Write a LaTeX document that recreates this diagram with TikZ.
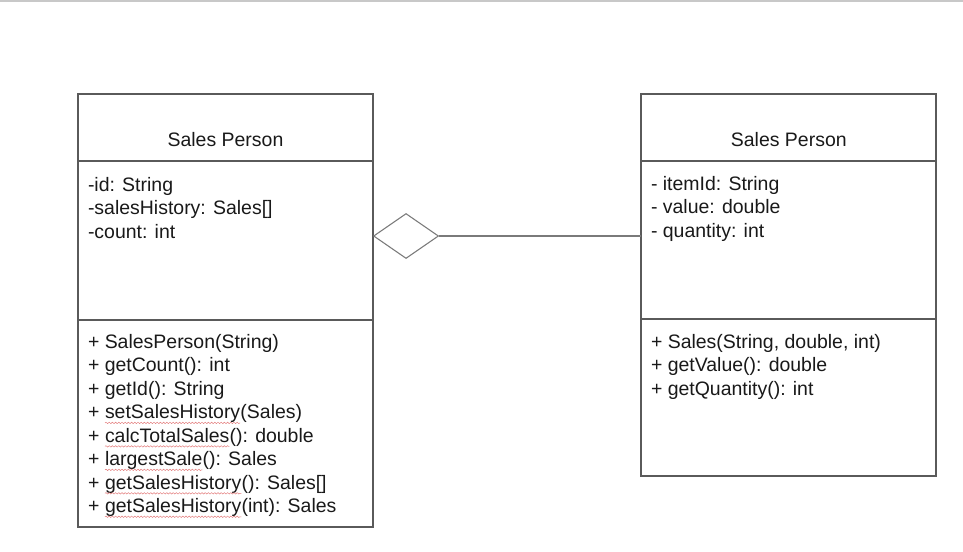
\documentclass[tikz,border=0pt]{standalone}
\usepackage{fontspec}
\setmainfont{Liberation Sans}
\usetikzlibrary{shapes.geometric,decorations.pathmorphing}
\definecolor{boxline}{HTML}{5A5A5A}
\definecolor{conline}{HTML}{7A7A7A}
\definecolor{topline}{HTML}{C8C8C8}
\definecolor{squig}{HTML}{E27A7A}
\newcommand\sqw[1]{\tikz[baseline=(w.base)]{\node[inner sep=0pt,outer sep=0pt,anchor=base](w){#1};\draw[squig,line width=0.35pt,decorate,decoration={snake,amplitude=0.55pt,segment length=2.4pt}]([yshift=-3.2pt]w.base west)--([yshift=-3.2pt]w.base east);}}
\begin{document}
\begin{tikzpicture}[x=0.75pt,y=-0.75pt,
  comp/.style={draw=boxline,line width=0.9pt,minimum width=221.25pt,inner sep=0pt,outer sep=0pt},
  txt/.style={inner sep=0pt,outer sep=0pt,align=left,font=\fontsize{14.6}{17.6}\selectfont,text=black!90},
  agg/.style={draw=conline,line width=0.8pt,shape=diamond,inner sep=0pt,minimum width=48.75pt,minimum height=33.75pt,fill=white},
  conn/.style={draw=conline,line width=0.8pt}]
\useasboundingbox (0,0) rectangle (963,551);
\draw[topline,line width=1.2pt] (0,0.8) coordinate (tl) -- (963,0.8) coordinate (tr);
% left class
\node[comp,minimum height=50.25pt] (lhead) at (225.5,127.5) {};
\node[comp,minimum height=119.25pt] (lattr) at (225.5,240.5) {};
\node[comp,minimum height=155.25pt] (lmeth) at (225.5,423.5) {};
% right class
\node[comp,minimum height=50.25pt] (rhead) at (788.5,127.5) {};
\node[comp,minimum height=118.5pt] (rattr) at (788.5,240) {};
\node[comp,minimum height=117.75pt] (rmeth) at (788.5,397.5) {};
% texts (anchor = baseline of the last line)
\node[txt,anchor=base] (lht) at (225.5,146.5) {Sales Person};
\node[txt,anchor=base] (rht) at (788.8,146.5) {Sales Person};
\node[txt,anchor=base west] (lat) at (88,238) {-id: String\\-salesHistory: Sales[]\\-count: int};
\node[txt,anchor=base west] (lmt) at (88,512.5) {+ SalesPerson(String)\\+ getCount(): int\\+ getId(): String\\+ \sqw{setSalesHistory}(Sales)\\+ \sqw{calcTotalSales}(): double\\+ \sqw{largestSale}(): Sales\\+ \sqw{getSalesHistory}(): Sales[]\\+ \sqw{getSalesHistory}(int): Sales};
\node[txt,anchor=base west] (rat) at (651,237) {- itemId: String\\- value: double\\- quantity: int};
\node[txt,anchor=base west] (rmt) at (651,395) {+ Sales(String, double, int)\\+ getValue(): double\\+ getQuantity(): int};
% aggregation
\node[agg,anchor=west] (dia) at (373,236) {};
\draw[conn] (dia.east) -- (dia.east -| rattr.west);
\end{tikzpicture}
\end{document}
